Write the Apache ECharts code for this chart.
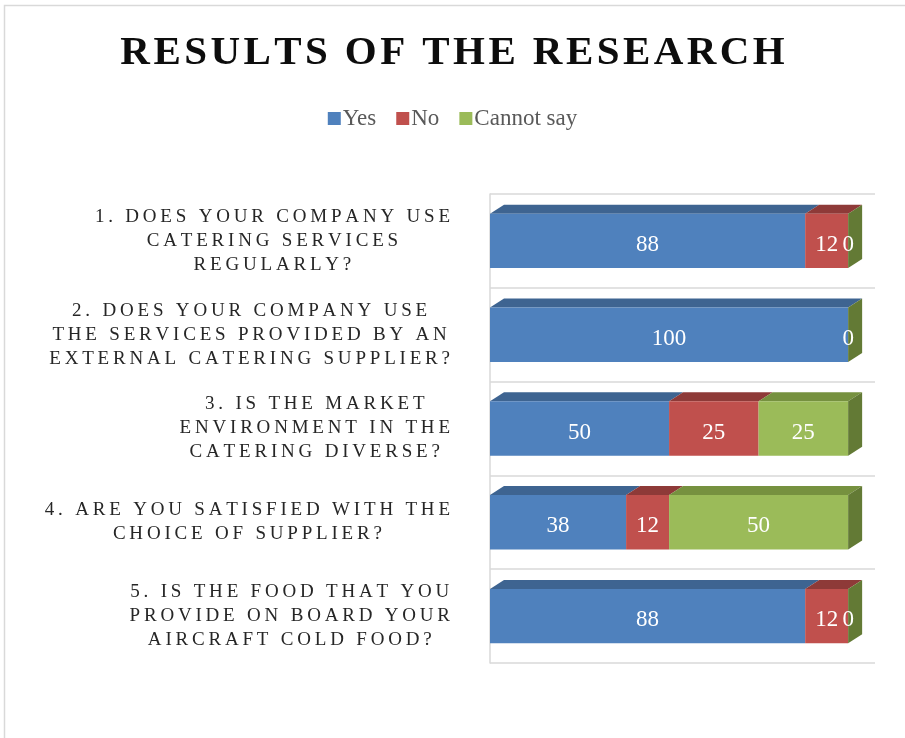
<!DOCTYPE html>
<html><head><meta charset="utf-8">
<script src="https://cdn.jsdelivr.net/npm/echarts@6/dist/echarts.min.js"></script>
<style>html,body{margin:0;padding:0;background:#fff}#c{width:905px;height:738px}</style>
</head><body><div id="c"></div>
<script>
const titleText = 'RESULTS OF THE RESEARCH';
const categories = [
  ['1. DOES YOUR COMPANY USE', 'CATERING SERVICES', 'REGULARLY?'],
  ['2. DOES YOUR COMPANY USE', 'THE SERVICES PROVIDED BY AN', 'EXTERNAL CATERING SUPPLIER?'],
  ['3. IS THE MARKET', 'ENVIRONMENT IN THE', 'CATERING DIVERSE?'],
  ['4. ARE YOU SATISFIED WITH THE', 'CHOICE OF SUPPLIER?'],
  ['5. IS THE FOOD THAT YOU', 'PROVIDE ON BOARD YOUR', 'AIRCRAFT COLD FOOD?']
];
const seriesNames = ['Yes', 'No', 'Cannot say'];
const yesValues = [88, 100, 50, 38, 88];
const noValues = [12, null, 25, 12, 12];
const cannotSayValues = [0, 0, 25, 50, 0];

const allValues = [yesValues, noValues, cannotSayValues];
const frontColors = ['#4F81BD', '#C0504D', '#9BBB59'];
const topColors = ['#3E6491', '#8E3A38', '#76913F'];
const sideColors = ['#35557C', '#7A302E', '#637A35'];

function spaced(s, sp) { return s.split('').join(sp); }

const catKeys = categories.map((c, i) => 'c' + i);

const series = seriesNames.map((name, k) => {
  const data = [];
  for (let i = 0; i < categories.length; i++) {
    const v = allValues[k][i];
    if (v === null || v === undefined) continue;
    let start = 0;
    for (let j = 0; j < k; j++) { const pv = allValues[j][i]; if (pv != null) start += pv; }
    data.push([i, start, start + v, v, k === seriesNames.length - 1 ? 1 : 0]);
  }
  return {
    name: name,
    type: 'custom',
    itemStyle: { color: frontColors[k] },
    encode: { x: [1, 2], y: 0 },
    data: data,
    renderItem: function (params, api) {
      const ci = api.value(0), s = api.value(1), e = api.value(2), v = api.value(3), last = api.value(4);
      const a = api.coord([s, ci]);
      const b = api.coord([e, ci]);
      const h = api.size([0, 1])[1] * 0.58;
      const top = a[1] - h / 2, bot = a[1] + h / 2;
      const dx = 14, dy = -9;
      const children = [
        { type: 'polygon', shape: { points: [[a[0], top], [b[0], top], [b[0] + dx, top + dy], [a[0] + dx, top + dy]] }, style: { fill: topColors[k] } },
        { type: 'rect', shape: { x: a[0], y: top, width: b[0] - a[0], height: h }, style: { fill: frontColors[k] } }
      ];
      if (last) {
        children.push({ type: 'polygon', shape: { points: [[b[0], top], [b[0] + dx, top + dy], [b[0] + dx, bot + dy], [b[0], bot]] }, style: { fill: sideColors[k] } });
      }
      children.push({
        type: 'text', x: (a[0] + b[0]) / 2, y: a[1] + 4,
        style: { text: String(v), fill: '#ffffff', fontSize: 23, fontFamily: 'Liberation Serif', align: 'center', verticalAlign: 'middle' }
      });
      return { type: 'group', children: children };
    }
  };
});

const chart = echarts.init(document.getElementById('c'), null, { renderer: 'canvas' });
chart.setOption({
  backgroundColor: '#ffffff',
  animation: false,
  title: {
    text: spaced(titleText, '\u200A'),
    left: 'center', top: 28,
    textStyle: { fontFamily: 'Liberation Serif', fontWeight: 'bold', fontSize: 41, color: '#0d0d0d' }
  },
  legend: {
    top: 102, left: 'center',
    icon: 'rect', itemWidth: 13, itemHeight: 13, itemGap: 20,
    data: seriesNames,
    textStyle: { fontFamily: 'Liberation Serif', fontSize: 23, color: '#595959', padding: [0, 0, 0, -3] }
  },
  graphic: [{ type: 'rect', shape: { x: 4.5, y: 5.5, width: 920, height: 800 }, style: { fill: 'none', stroke: '#d9d9d9', lineWidth: 1.5 }, silent: true }],
  grid: { left: 490, right: 30, top: 194, bottom: 75 },
  xAxis: { type: 'value', min: 0, max: 107.5, show: false },
  yAxis: {
    type: 'category', inverse: true, data: catKeys,
    axisTick: { show: false },
    axisLine: { show: true, lineStyle: { color: '#d9d9d9', width: 1.5 } },
    splitLine: { show: true, lineStyle: { color: '#d9d9d9', width: 1.5 } },
    axisLabel: {
      margin: 40,
      formatter: function (val, idx) {
        return categories[idx].map(l => '{t|' + spaced(l, '\u2009') + '}').join('\n');
      },
      rich: { t: { align: 'center', fontFamily: 'Liberation Serif', fontSize: 19, lineHeight: 24, color: '#262626' } }
    }
  },
  series: series
});
</script></body></html>
